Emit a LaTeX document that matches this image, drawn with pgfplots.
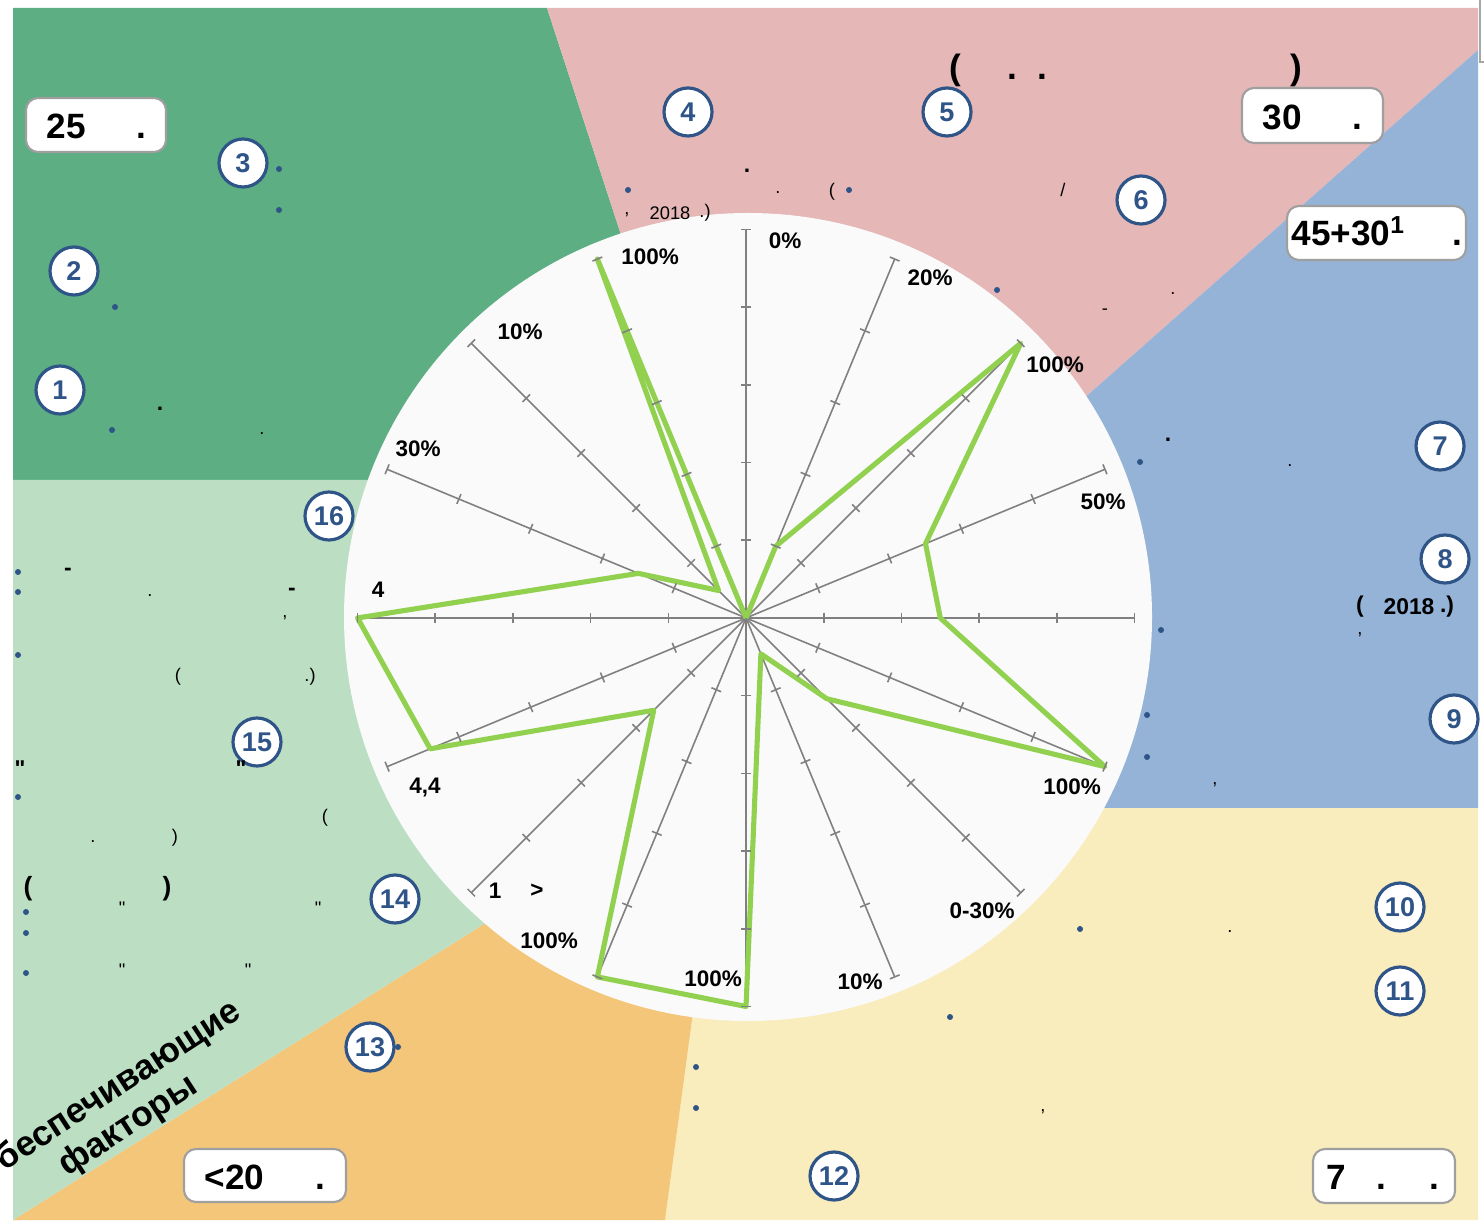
\documentclass[border=0pt]{standalone}
\usepackage{fontspec}
\setmainfont{Liberation Sans}
\usepackage{pgfplots}
\pgfplotsset{compat=1.18}
\definecolor{dgreen}{RGB}{93,174,131}
\definecolor{pinkbg}{RGB}{229,183,183}
\definecolor{bluebg}{RGB}{149,179,215}
\definecolor{lgreen}{RGB}{188,223,196}
\definecolor{yellowbg}{RGB}{249,237,189}
\definecolor{orangebg}{RGB}{243,198,122}
\definecolor{circfill}{RGB}{250,250,250}
\definecolor{radar}{RGB}{146,208,80}
\definecolor{numblue}{RGB}{47,84,135}
\definecolor{spoke}{RGB}{128,128,128}
\newcommand\fs[1]{\fontsize{#1}{#1}\selectfont}
\tikzset{
  num/.style={circle, draw=numblue, line width=0.9pt, fill=white, minimum size=4.8mm, inner sep=0pt, text=numblue, font=\fs{7.7}\bfseries},
  bul/.style={fill=numblue},
  box/.style={draw=gray!75, line width=0.6pt, fill=white, rounded corners=1.2mm},
  lab/.style={font=\fs{6.4}\bfseries, inner sep=0pt},
  big/.style={font=\fs{10}\bfseries, inner sep=0pt},
  sm/.style={font=\fs{5.2}, inner sep=0pt},
  smb/.style={font=\fs{6.5}\bfseries, inner sep=0pt}
}
\begin{document}
\begin{tikzpicture}
\useasboundingbox (0,0) rectangle (14.84cm,12.24cm);
\begin{scope}[x=0.1mm,y=-0.1mm,yshift=12.24cm]
  \fill[dgreen] (13,8) -- (547,8) -- (746,618) -- (600,480) -- (13,480) -- cycle;
  \fill[pinkbg] (547,8) -- (1478,8) -- (1478,50) -- (900,561) -- (746,618) -- cycle;
  \fill[bluebg] (1478,50) -- (1478,808) -- (900,808) -- (746,618) -- (900,561) -- cycle;
  \fill[yellowbg] (900,808) -- (1478,808) -- (1478,1220) -- (665,1220) -- (719,820) -- (746,618) -- cycle;
  \fill[orangebg] (13,1220) -- (600,851) -- (746,618) -- (719,820) -- (665,1220) -- cycle;
  \fill[lgreen] (13,480) -- (600,480) -- (746,618) -- (600,851) -- (13,1220) -- cycle;
  \draw[gray!70, line width=0.5pt] (1480,0) -- (1480,62) -- (1490,62);
  \fill[circfill] (748,617) circle[radius=40.4mm];
\end{scope}
\begin{axis}[at={(0,0)}, anchor=south west, scale only axis,
  width=14.84cm, height=12.24cm,
  xmin=-9.6010, xmax=9.4981, ymin=-7.7992, ymax=7.9537,
  hide axis, clip=false]
\pgfplotsinvokeforeach{90,67.5,45,22.5,0,-22.5,-45,-67.5,-90,-112.5,-135,-157.5,180,157.5,135,112.5}{
  \addplot[spoke, line width=0.45pt, data cs=polar, mark=|, mark indices={2,3,4,5,6}, mark size=1.5pt,
    mark options={rotate=#1, solid, line width=0.45pt}]
    coordinates {(#1,0) (#1,1) (#1,2) (#1,3) (#1,4) (#1,5)};
}
\addplot[radar, line width=1.45pt, line join=round, no marks, data cs=polar] coordinates {
  (90,0) (67.5,1.0) (45,5) (22.5,2.5) (0,2.5) (-22.5,5) (-45,1.47) (-67.5,0.5)
  (-90,5) (-112.5,5) (-135,1.68) (-157.5,4.4) (180,5) (157.5,1.5) (135,0.5) (112.5,5) (90,0)};
\end{axis}
\begin{scope}[x=0.1mm,y=-0.1mm,yshift=12.24cm]
  % spoke labels
  \node[lab] at (785,241) {0\%};
  \node[lab] at (930,278) {20\%};
  \node[lab] at (1055,365) {100\%};
  \node[lab] at (1103,502) {50\%};
  \node[lab] at (1072,787) {100\%};
  \node[lab] at (982,911) {0-30\%};
  \node[lab] at (860,982) {10\%};
  \node[lab] at (713,979) {100\%};
  \node[lab] at (549,941) {100\%};
  \node[lab] at (495,891) {1};
  \node[lab] at (537,891) {>};
  \node[lab] at (425,787) {4,4};
  \node[lab] at (378,590) {4};
  \node[lab] at (418,449) {30\%};
  \node[lab] at (520,332) {10\%};
  \node[lab] at (650,257) {100\%};
  % boxes
  \draw[box] (26,98) rectangle (166,152);
  \node[big, anchor=base west] at (46,139) {25};
  \node[big, anchor=base] at (141,139) {.};
  \draw[box] (1242,88) rectangle (1383,143);
  \node[big, anchor=base west] at (1262,130) {30};
  \node[big, anchor=base] at (1357,130) {.};
  \draw[box] (1287,206) rectangle (1466,260);
  \node[big, anchor=base west] at (1291,246) {45+30\textsuperscript{1}};
  \node[big, anchor=base] at (1457,246) {.};
  \draw[box] (184,1149) rectangle (346,1202);
  \node[big, anchor=base west] at (204,1189) {<20};
  \node[big, anchor=base] at (320,1189) {.};
  \draw[box] (1313,1149) rectangle (1455,1203);
  \node[big, anchor=base west] at (1326,1189) {7};
  \node[big, anchor=base] at (1381,1189) {.};
  \node[big, anchor=base] at (1434,1189) {.};
  % title fragments
  \node[big] at (955,70) {(};
  \node[big, anchor=base] at (1012,80) {.};
  \node[big, anchor=base] at (1042,80) {.};
  \node[big] at (1296,70) {)};
  % numbered circles
  \node[num] at (60,390) {1};
  \node[num] at (74,271) {2};
  \node[num] at (243,163) {3};
  \node[num] at (688,112) {4};
  \node[num] at (947,112) {5};
  \node[num] at (1141,200) {6};
  \node[num] at (1440,446) {7};
  \node[num] at (1445,559) {8};
  \node[num] at (1454,719) {9};
  \node[num] at (1400,907) {10};
  \node[num] at (1400,991) {11};
  \node[num] at (834,1176) {12};
  \node[num] at (370,1047) {13};
  \node[num] at (395,899) {14};
  \node[num] at (257,742) {15};
  \node[num] at (329,516) {16};
  % bullets
  \foreach \p in {(279,169),(279,210),(115,307),(112,430),(628,190),(849,190),(997,290),
    (1140,462),(1161,630),(1147,715),(1147,757),(1080,929),(950,1017),(696,1067),(696,1108),
    (398,1047),(18,572),(18,592),(18,655),(18,797),(26,912),(26,933),(26,973)}
    {\fill[bul] \p circle[radius=0.3mm];}
  % small fragments
  \node[smb] at (160,409) {.};
  \node[sm] at (262,434) {.};
  \node[smb] at (747,171) {.};
  \node[sm] at (778,193) {.};
  \node[sm] at (832,192) {(};
  \node[sm] at (1063,190) {/};
  \node[sm] at (627,215) {,};
  \node[sm] at (670,213) {2018};
  \node[sm] at (705,213) {.)};
  \node[sm] at (1105,312) {-};
  \node[sm] at (1173,294) {.};
  \node[smb] at (1168,440) {.};
  \node[sm] at (1290,466) {.};
  \node[smb] at (1360,607) {(};
  \node[smb] at (1409,607) {2018};
  \node[smb] at (1447,607) {.)};
  \node[sm] at (1360,635) {,};
  \node[sm] at (1215,785) {,};
  \node[sm] at (1230,932) {.};
  \node[sm] at (1043,1112) {,};
  \node[smb] at (68,572) {-};
  \node[sm] at (150,596) {.};
  \node[smb] at (292,592) {-};
  \node[sm] at (285,618) {,};
  \node[sm] at (178,677) {(};
  \node[sm] at (310,677) {.)};
  \node[smb] at (20,769) {\textquotedbl};
  \node[smb] at (241,769) {\textquotedbl};
  \node[sm] at (325,818) {(};
  \node[sm] at (93,842) {.};
  \node[sm] at (175,838) {)};
  \node[font=\fs{7.5}\bfseries, inner sep=0pt] at (28,889) {(};
  \node[font=\fs{7.5}\bfseries, inner sep=0pt] at (167,889) {)};
  \node[sm] at (122,908) {\textquotedbl};
  \node[sm] at (318,908) {\textquotedbl};
  \node[sm] at (122,970) {\textquotedbl};
  \node[sm] at (248,970) {\textquotedbl};
  % rotated text
  \node[font=\fs{10}\bfseries, align=center, rotate=33, inner sep=0pt] at (118,1110)
    {Обеспечивающие\\[1pt]факторы};
\end{scope}
\end{tikzpicture}
\end{document}
